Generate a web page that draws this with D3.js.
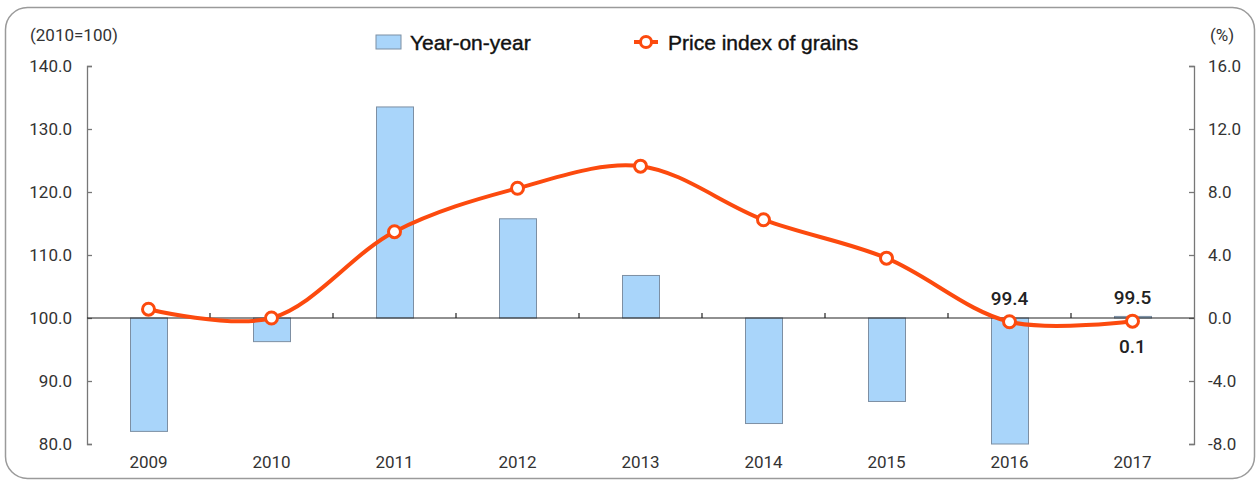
<!DOCTYPE html>
<html><head><meta charset="utf-8">
<script src="https://cdn.jsdelivr.net/npm/d3@7"></script>
<style>
html,body{margin:0;padding:0;background:#fff;}
svg{display:block;}
</style></head>
<body>
<svg id="chart" width="1260" height="483"></svg>
<script>
const years = ["2009","2010","2011","2012","2013","2014","2015","2016","2017"];
const yoy = [-7.2, -1.5, 13.4, 6.3, 2.7, -6.7, -5.3, -8.0, 0.1];
const priceIndex = [101.4, 100.0, 113.7, 120.6, 124.1, 115.6, 109.5, 99.4, 99.5];
const leftTicks = [80, 90, 100, 110, 120, 130, 140];
const rightTicks = [-8, -4, 0, 4, 8, 12, 16];
const labelIdx = [7, 8];

const svg = d3.select("#chart");
const font = "'Roboto','DejaVu Sans Condensed',sans-serif";
const fmt = d => d.toFixed(1);
const L = 87, R = 1194, T = 66, B = 444;

svg.append("rect").attr("x",5.5).attr("y",7.5).attr("width",1249).attr("height",471)
  .attr("rx",22).attr("fill","#fff").attr("stroke","#9a9a9a").attr("stroke-width",1.5);

const x = d3.scaleBand().domain(years).range([L,R]).padding(0);
const yL = d3.scaleLinear().domain([80,140]).range([B,T]);
const yR = d3.scaleLinear().domain([-8,16]).range([B,T]);

// left axis
const gl = svg.append("g").attr("transform",`translate(${L},0)`)
  .call(d3.axisLeft(yL).tickValues(leftTicks).tickSize(-5).tickPadding(15).tickFormat(fmt));
gl.select(".domain").attr("stroke","#777").attr("stroke-width",1.3);
gl.selectAll(".tick line").attr("stroke","#777").attr("stroke-width",1.3);
gl.selectAll("text").attr("font-family",font).attr("font-size",17).attr("fill","#333");

// right axis
const gr = svg.append("g").attr("transform",`translate(${R},0)`)
  .call(d3.axisRight(yR).tickValues(rightTicks).tickSize(-5).tickPadding(14).tickFormat(fmt));
gr.select(".domain").attr("stroke","#777").attr("stroke-width",1.3);
gr.selectAll(".tick line").attr("stroke","#777").attr("stroke-width",1.3);
gr.selectAll("text").attr("font-family",font).attr("font-size",17).attr("fill","#333");

// bars
const bw = 37;
svg.append("g").selectAll("rect").data(yoy).join("rect")
  .attr("x",(d,i)=>x(years[i])+x.bandwidth()/2-bw/2+0.5)
  .attr("y",d=>Math.min(yR(d),yR(0)))
  .attr("width",bw)
  .attr("height",d=>Math.abs(yR(d)-yR(0)))
  .attr("fill","#a9d5fa").attr("stroke","#7d8fa3").attr("stroke-width",1);

// zero line with category ticks
const y0 = yR(0);
svg.append("line").attr("x1",L).attr("x2",R).attr("y1",y0).attr("y2",y0)
  .attr("stroke","#222").attr("stroke-width",1.2);
svg.append("g").selectAll("line").data(years.slice(1)).join("line")
  .attr("x1",d=>x(d)).attr("x2",d=>x(d)).attr("y1",y0).attr("y2",y0-5)
  .attr("stroke","#222").attr("stroke-width",1.2);

// x labels
svg.append("g").selectAll("text").data(years).join("text")
  .attr("x",d=>x(d)+x.bandwidth()/2).attr("y",468)
  .attr("text-anchor","middle").attr("font-family",font).attr("font-size",17).attr("fill","#333")
  .text(d=>d);

// line
const color = "#fc4a0e";
const line = d3.line().x((d,i)=>x(years[i])+x.bandwidth()/2).y(d=>yL(d)).curve(d3.curveCatmullRom.alpha(0.5));
svg.append("path").datum(priceIndex).attr("d",line).attr("fill","none")
  .attr("stroke",color).attr("stroke-width",4);
svg.append("g").selectAll("circle").data(priceIndex).join("circle")
  .attr("cx",(d,i)=>x(years[i])+x.bandwidth()/2).attr("cy",d=>yL(d)).attr("r",6)
  .attr("fill","#fff").attr("stroke",color).attr("stroke-width",3);

// data labels
svg.append("g").selectAll("text").data(labelIdx).join("text")
  .attr("x",i=>x(years[i])+x.bandwidth()/2).attr("y",i=>yL(priceIndex[i])-17)
  .attr("text-anchor","middle").attr("font-family",font).attr("font-size",19).attr("font-weight",500).attr("fill","#222")
  .text(i=>priceIndex[i].toFixed(1));
svg.append("text").attr("x",x("2017")+x.bandwidth()/2).attr("y",yR(0)+35)
  .attr("text-anchor","middle").attr("font-family",font).attr("font-size",19).attr("font-weight",500).attr("fill","#222")
  .text(yoy[8].toFixed(1));

// axis unit labels
svg.append("text").attr("x",30).attr("y",41).attr("font-family",font).attr("font-size",17).attr("fill","#333").text("(2010=100)");
svg.append("text").attr("x",1210).attr("y",41).attr("font-family",font).attr("font-size",17).attr("fill","#333").text("(%)");

// legend
const lf = "'Liberation Sans','Arial',sans-serif";
svg.append("rect").attr("x",376).attr("y",35).attr("width",25).attr("height",14)
  .attr("fill","#a9d5fa").attr("stroke","#7d8fa3");
svg.append("text").attr("x",410).attr("y",50).attr("font-family",lf).attr("font-size",21).attr("fill","#111")
  .attr("stroke","#111").attr("stroke-width",0.4).text("Year-on-year");
svg.append("line").attr("x1",634).attr("x2",658).attr("y1",42).attr("y2",42).attr("stroke",color).attr("stroke-width",4);
svg.append("circle").attr("cx",646).attr("cy",42).attr("r",5.5).attr("fill","#fff").attr("stroke",color).attr("stroke-width",3);
svg.append("text").attr("x",668).attr("y",50).attr("font-family",lf).attr("font-size",21).attr("fill","#111")
  .attr("stroke","#111").attr("stroke-width",0.4).text("Price index of grains");
</script>
</body></html>
